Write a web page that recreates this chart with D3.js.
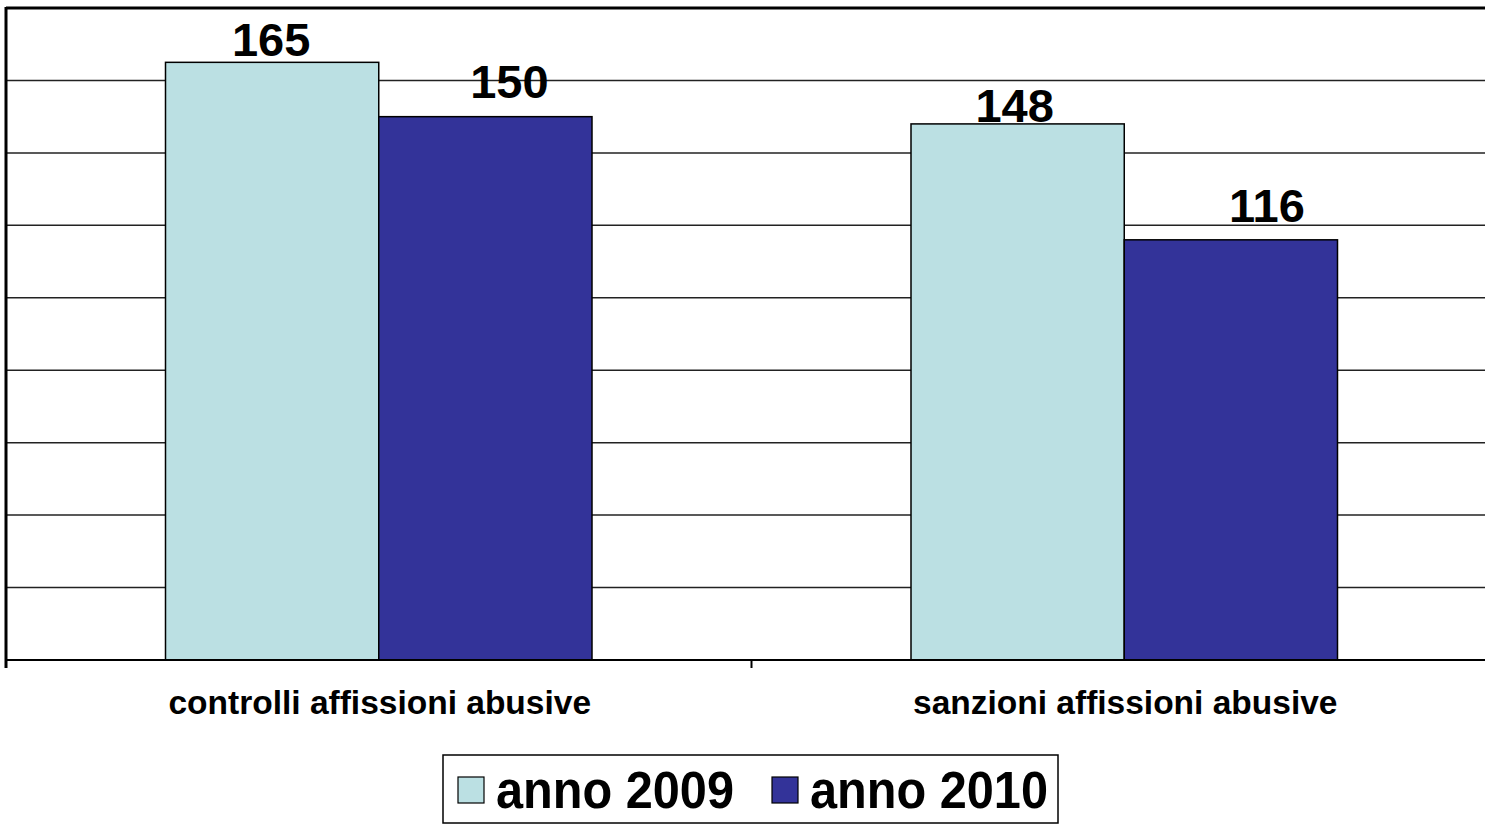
<!DOCTYPE html>
<html lang="it">
<head>
  <meta charset="UTF-8">
  <title>Controlli e sanzioni affissioni abusive</title>
  <script src="https://d3js.org/d3.v7.min.js"></script>
  <style>
    body {
      margin: 0;
      background: #fff;
      font-family: "Liberation Sans", Arial, sans-serif;
    }
    svg { display: block; overflow: hidden; }
    .grid line { stroke: #222; stroke-width: 1.5px; }
    .cat-label { font-size: 33.5px; font-weight: bold; }
    .val-label { font-size: 47px; font-weight: bold; }
    .legend-text { font-size: 51px; font-weight: bold; }
  </style>
</head>
<body>
  <svg width="1485" height="824"></svg>

  <script>
    // data
    const categories = ["controlli affissioni abusive", "sanzioni affissioni abusive"];
    const series = ["anno 2009", "anno 2010"];
    const values2009 = [165, 148];
    const values2010 = [150, 116];
    const yTicks = [0, 20, 40, 60, 80, 100, 120, 140, 160, 180];

    const colors = ["#BBE0E3", "#333399"];
    // label nudges as placed in the original (dx, dy per series/category)
    const labelNudge = [
      [[-1, -6], [-3, -2]],
      [[24, -19], [36, -18]]
    ];

    const svg = d3.select("svg");
    const plotLeft = 6, plotTop = 8, zeroY = 660, band = 745.5;

    const x0 = d3.scaleBand()
      .domain(categories)
      .range([plotLeft, plotLeft + band * categories.length])
      .padding(0);

    const x1 = d3.scaleBand()
      .domain(series)
      .range([159.5, band - 159.5])
      .padding(0);

    const y = d3.scaleLinear()
      .domain([0, 180])
      .range([zeroY, plotTop]);

    // gridlines
    svg.append("g")
      .attr("class", "grid")
      .selectAll("line")
      .data(yTicks.slice(1, -1))
      .enter()
      .append("line")
      .attr("x1", plotLeft)
      .attr("x2", 1485)
      .attr("y1", d => y(d))
      .attr("y2", d => y(d));

    // top border of plot
    svg.append("line")
      .attr("x1", plotLeft).attr("x2", 1485)
      .attr("y1", y(180)).attr("y2", y(180))
      .attr("stroke", "#000").attr("stroke-width", 3);

    const rows = categories.map((c, i) => ({
      cat: c,
      vals: [values2009[i], values2010[i]]
    }));

    // bars
    const groups = svg.selectAll("g.cat")
      .data(rows)
      .enter()
      .append("g")
      .attr("class", "cat")
      .attr("transform", d => `translate(${x0(d.cat)},0)`);

    groups.selectAll("rect")
      .data(d => d.vals.map((v, j) => ({ s: series[j], v: v, j: j })))
      .enter()
      .append("rect")
      .attr("x", d => x1(d.s))
      .attr("y", d => y(d.v))
      .attr("width", x1.bandwidth())
      .attr("height", d => y(0) - y(d.v))
      .attr("fill", d => colors[d.j])
      .attr("stroke", "#000")
      .attr("stroke-width", 1.5);

    // value labels
    groups.selectAll("text.val-label")
      .data((d, i) => d.vals.map((v, j) => ({ s: series[j], v: v, j: j, i: i })))
      .enter()
      .append("text")
      .attr("class", "val-label")
      .attr("text-anchor", "middle")
      .attr("x", d => x1(d.s) + x1.bandwidth() / 2 + labelNudge[d.j][d.i][0])
      .attr("y", d => y(d.v) + labelNudge[d.j][d.i][1])
      .text(d => d.v);

    // x axis
    const xAxis = svg.append("g")
      .attr("transform", `translate(0,${zeroY})`);
    xAxis.append("line")
      .attr("x1", plotLeft).attr("x2", 1485)
      .attr("y1", 0).attr("y2", 0)
      .attr("stroke", "#000").attr("stroke-width", 2);
    xAxis.selectAll("line.tick")
      .data(categories.map(c => x0(c)).concat([plotLeft + band * categories.length]))
      .enter()
      .append("line")
      .attr("class", "tick")
      .attr("x1", d => d).attr("x2", d => d)
      .attr("y1", 0).attr("y2", 8)
      .attr("stroke", "#000").attr("stroke-width", 2);

    svg.selectAll("text.cat-label")
      .data(categories)
      .enter()
      .append("text")
      .attr("class", "cat-label")
      .attr("text-anchor", "middle")
      .attr("x", d => x0(d) + band / 2 + 1)
      .attr("y", 714)
      .text(d => d);

    // y axis line
    svg.append("line")
      .attr("x1", plotLeft).attr("x2", plotLeft)
      .attr("y1", plotTop - 1).attr("y2", zeroY + 8)
      .attr("stroke", "#000").attr("stroke-width", 3);

    // legend
    const legend = svg.append("g");
    legend.append("rect")
      .attr("x", 443).attr("y", 755)
      .attr("width", 615).attr("height", 68)
      .attr("fill", "#fff")
      .attr("stroke", "#000").attr("stroke-width", 1.5);

    const legendX = [458, 772];
    series.forEach((s, j) => {
      legend.append("rect")
        .attr("x", legendX[j]).attr("y", 777)
        .attr("width", 26).attr("height", 26)
        .attr("fill", colors[j])
        .attr("stroke", "#000").attr("stroke-width", 1.2);
      legend.append("text")
        .attr("class", "legend-text")
        .attr("x", legendX[j] + 38)
        .attr("y", 808)
        .attr("textLength", 238)
        .attr("lengthAdjust", "spacingAndGlyphs")
        .text(s);
    });
  </script>
</body>
</html>
